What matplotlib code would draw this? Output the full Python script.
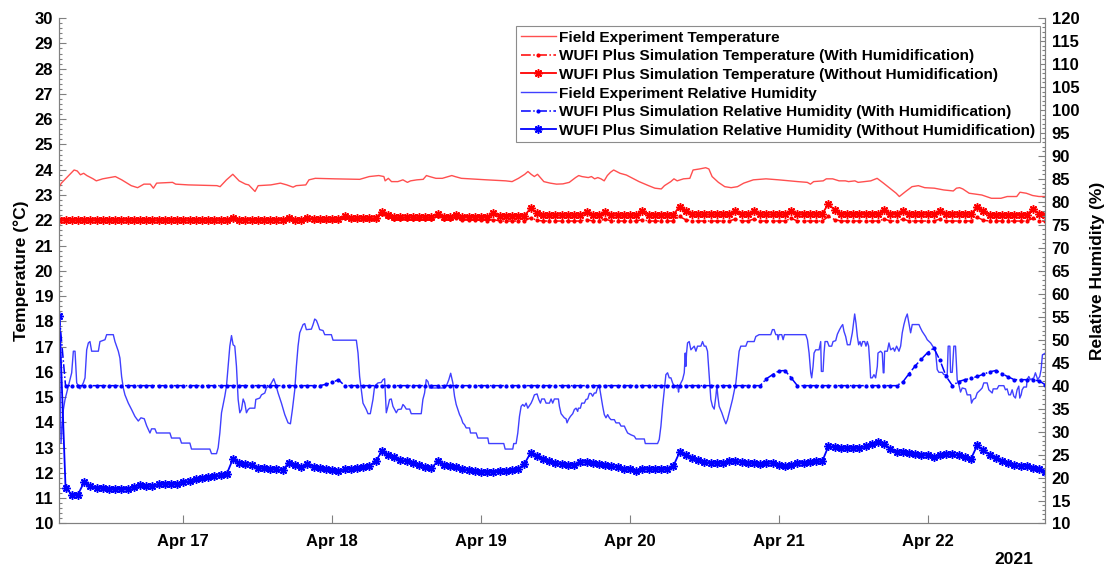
import datetime as dt

import matplotlib
matplotlib.use("Agg")
import matplotlib.pyplot as plt
import matplotlib.dates as mdates
from matplotlib.ticker import MultipleLocator

plt.rcParams["font.family"] = ["Liberation Sans", "DejaVu Sans"]
plt.rcParams["font.weight"] = "bold"

# ---------------------------------------------------------------- data
START = dt.datetime(2021, 4, 16, 4, 0)   # first hourly record
HOURS = list(range(160))                 # hourly simulation output

# WUFI Plus simulated indoor temperature (deg C), hourly
T_WITH_HUMID = [
    22.00, 22.00, 22.00, 22.00, 22.00, 22.00, 22.00, 22.00, 22.00, 22.00,
    22.00, 22.00, 22.00, 22.00, 22.00, 22.00, 22.00, 22.00, 22.00, 22.00,
    22.00, 22.00, 22.00, 22.00, 22.00, 22.00, 22.00, 22.00, 22.06, 22.00,
    22.00, 22.00, 22.00, 22.00, 22.00, 22.00, 22.00, 22.06, 22.00, 22.00,
    22.06, 22.01, 22.01, 22.01, 22.01, 22.01, 22.10, 22.04, 22.04, 22.04,
    22.04, 22.04, 22.25, 22.12, 22.06, 22.06, 22.06, 22.06, 22.05, 22.05,
    22.05, 22.15, 22.05, 22.04, 22.10, 22.03, 22.02, 22.01, 22.00, 21.98,
    22.03, 21.97, 21.97, 21.97, 21.97, 21.97, 22.10, 22.00, 21.97, 21.97,
    21.97, 21.97, 21.97, 21.97, 21.97, 22.03, 21.97, 21.97, 22.05, 21.97,
    21.97, 21.97, 21.97, 21.97, 22.03, 21.97, 21.97, 21.97, 21.97, 21.97,
    22.15, 22.02, 21.97, 21.97, 21.97, 21.97, 21.97, 21.97, 21.97, 22.05,
    21.97, 21.97, 22.05, 21.97, 21.97, 21.97, 21.97, 21.97, 22.08, 21.97,
    21.97, 21.97, 21.97, 21.97, 22.15, 22.03, 21.97, 21.97, 21.97, 21.97,
    21.97, 21.97, 21.97, 22.05, 21.97, 21.97, 22.05, 21.97, 21.97, 21.97,
    21.97, 21.97, 22.05, 21.97, 21.97, 21.97, 21.97, 21.97, 22.12, 22.00,
    21.97, 21.97, 21.97, 21.97, 21.97, 21.97, 21.97, 22.08, 21.97, 21.97,
]
T_WITHOUT_HUMID = [
    22.00, 22.00, 22.00, 22.00, 22.00, 22.00, 22.00, 22.00, 22.00, 22.00,
    22.00, 22.00, 22.00, 22.00, 22.00, 22.00, 22.00, 22.00, 22.00, 22.00,
    22.00, 22.00, 22.00, 22.00, 22.00, 22.00, 22.00, 22.00, 22.10, 22.02,
    22.02, 22.02, 22.02, 22.02, 22.02, 22.02, 22.02, 22.10, 22.03, 22.03,
    22.10, 22.04, 22.04, 22.04, 22.04, 22.04, 22.17, 22.08, 22.08, 22.08,
    22.08, 22.08, 22.34, 22.20, 22.12, 22.12, 22.12, 22.12, 22.12, 22.12,
    22.12, 22.25, 22.14, 22.13, 22.22, 22.14, 22.14, 22.14, 22.14, 22.14,
    22.28, 22.18, 22.18, 22.18, 22.18, 22.18, 22.48, 22.30, 22.20, 22.20,
    22.20, 22.20, 22.20, 22.20, 22.20, 22.33, 22.21, 22.21, 22.33, 22.20,
    22.20, 22.20, 22.20, 22.20, 22.35, 22.22, 22.22, 22.22, 22.22, 22.22,
    22.54, 22.35, 22.23, 22.23, 22.23, 22.23, 22.23, 22.23, 22.23, 22.36,
    22.24, 22.24, 22.36, 22.23, 22.23, 22.23, 22.23, 22.23, 22.38, 22.24,
    22.24, 22.24, 22.24, 22.24, 22.66, 22.40, 22.25, 22.25, 22.25, 22.25,
    22.25, 22.25, 22.25, 22.40, 22.26, 22.26, 22.38, 22.24, 22.24, 22.24,
    22.24, 22.24, 22.38, 22.24, 22.24, 22.24, 22.24, 22.24, 22.54, 22.35,
    22.22, 22.22, 22.22, 22.22, 22.22, 22.22, 22.22, 22.45, 22.25, 22.22,
]

# WUFI Plus simulated indoor relative humidity (%), hourly
RH_WITH_HUMID = [
    55.2, 40.0, 40.0, 40.0, 40.0, 40.0, 40.0, 40.0, 40.0, 40.0,
    40.0, 40.0, 40.0, 40.0, 40.0, 40.0, 40.0, 40.0, 40.0, 40.0,
    40.0, 40.0, 40.0, 40.0, 40.0, 40.0, 40.0, 40.0, 40.0, 40.0,
    40.0, 40.0, 40.0, 40.0, 40.0, 40.0, 40.0, 40.0, 40.0, 40.0,
    40.0, 40.0, 40.0, 40.3, 40.7, 41.3, 40.0, 40.0, 40.0, 40.0,
    40.0, 40.0, 40.0, 40.0, 40.0, 40.0, 40.0, 40.0, 40.0, 40.0,
    40.0, 40.0, 40.0, 40.0, 40.0, 40.0, 40.0, 40.0, 40.0, 40.0,
    40.0, 40.0, 40.0, 40.0, 40.0, 40.0, 40.0, 40.0, 40.0, 40.0,
    40.0, 40.0, 40.0, 40.0, 40.0, 40.0, 40.0, 40.0, 40.0, 40.0,
    40.0, 40.0, 40.0, 40.0, 40.0, 40.0, 40.0, 40.0, 40.0, 40.0,
    40.0, 40.0, 40.0, 40.0, 40.0, 40.0, 40.0, 40.0, 40.0, 40.0,
    40.0, 40.0, 40.0, 40.0, 41.5, 42.4, 43.2, 43.3, 41.7, 40.0,
    40.0, 40.0, 40.0, 40.0, 40.0, 40.0, 40.0, 40.0, 40.0, 40.0,
    40.0, 40.0, 40.0, 40.0, 40.0, 40.0, 40.8, 42.6, 44.3, 45.8,
    47.2, 48.2, 45.5, 42.0, 40.0, 40.9, 41.3, 41.6, 42.0, 42.5,
    43.0, 43.3, 42.6, 41.9, 41.3, 41.3, 41.3, 41.3, 41.0, 40.2,
]
RH_WITHOUT_HUMID = [
    55.2, 17.8, 16.3, 16.3, 19.0, 18.1, 17.8, 17.7, 17.6, 17.6,
    17.5, 17.6, 18.0, 18.4, 18.1, 18.1, 18.6, 18.6, 18.6, 18.7,
    19.0, 19.2, 19.7, 19.8, 20.1, 20.4, 20.5, 20.8, 24.1, 23.2,
    23.0, 22.7, 22.1, 22.0, 21.9, 21.8, 21.6, 23.2, 22.7, 22.3,
    22.9, 22.4, 22.1, 21.9, 21.7, 21.4, 21.8, 21.9, 22.1, 22.2,
    22.6, 23.5, 25.7, 25.0, 24.5, 23.9, 23.5, 23.2, 22.8, 22.4,
    22.1, 23.5, 22.8, 22.5, 22.3, 21.9, 21.6, 21.4, 21.3, 21.2,
    21.3, 21.5, 21.5, 21.6, 21.8, 23.0, 25.4, 24.7, 24.1, 23.5,
    23.2, 23.0, 22.7, 22.8, 23.3, 23.4, 23.2, 22.9, 22.8, 22.6,
    22.2, 21.9, 21.8, 21.4, 21.9, 21.8, 21.8, 21.8, 21.9, 22.5,
    25.5, 24.8, 24.3, 23.9, 23.4, 23.2, 23.1, 23.2, 23.5, 23.7,
    23.3, 23.2, 23.1, 23.0, 23.1, 23.1, 22.8, 22.5, 22.8, 23.1,
    23.2, 23.3, 23.5, 23.5, 26.8, 26.6, 26.4, 26.4, 26.4, 26.5,
    26.8, 27.2, 27.8, 27.4, 26.2, 25.5, 25.5, 25.4, 25.2, 25.0,
    24.8, 24.5, 24.9, 25.1, 25.1, 24.8, 24.5, 24.1, 27.0, 25.9,
    25.0, 24.3, 23.5, 23.2, 22.7, 22.5, 22.6, 22.1, 21.8, 21.2,
]

# Field measurements: (hours after first record, value)
FIELD_TEMP = [
    (0.00, 23.33), (0.33, 23.47), (1.36, 23.73), (2.38, 23.99), (2.89, 23.95),
    (3.40, 23.80), (3.92, 23.86), (4.43, 23.77), (5.45, 23.64), (5.96, 23.56),
    (6.99, 23.64), (9.03, 23.73), (10.06, 23.60), (11.59, 23.37), (12.62, 23.29),
    (13.64, 23.43), (14.66, 23.43), (15.17, 23.27), (15.69, 23.47), (18.25, 23.50),
    (18.76, 23.43), (20.80, 23.40), (25.41, 23.37), (25.92, 23.33), (26.95, 23.60),
    (27.97, 23.82), (28.99, 23.56), (30.02, 23.43), (30.53, 23.40), (31.55, 23.14),
    (32.06, 23.37), (34.11, 23.40), (35.65, 23.47), (36.67, 23.40), (37.69, 23.31),
    (38.20, 23.37), (39.74, 23.40), (40.25, 23.60), (41.27, 23.66), (44.34, 23.64),
    (48.44, 23.62), (49.97, 23.73), (51.51, 23.77), (52.33, 23.73), (52.53, 23.56),
    (53.05, 23.66), (53.56, 23.53), (54.58, 23.53), (55.40, 23.60), (56.12, 23.50),
    (56.63, 23.56), (57.65, 23.60), (58.67, 23.62), (59.19, 23.77), (59.70, 23.73),
    (60.72, 23.66), (61.75, 23.66), (63.28, 23.77), (63.79, 23.73), (64.82, 23.66),
    (68.91, 23.60), (71.98, 23.56), (73.00, 23.53), (74.03, 23.66), (75.05, 23.82),
    (75.56, 23.93), (76.07, 23.82), (76.59, 23.73), (77.10, 23.82), (78.12, 23.53),
    (79.14, 23.47), (80.17, 23.43), (81.19, 23.44), (82.22, 23.50), (83.24, 23.69),
    (83.75, 23.77), (84.26, 23.73), (85.29, 23.69), (85.80, 23.73), (86.31, 23.64),
    (86.82, 23.69), (87.33, 23.64), (87.85, 23.56), (88.36, 23.77), (88.87, 23.90),
    (89.38, 23.99), (90.40, 23.86), (91.43, 23.79), (92.45, 23.66), (93.47, 23.53),
    (95.01, 23.37), (96.03, 23.27), (97.06, 23.24), (97.57, 23.37), (98.59, 23.53),
    (99.10, 23.64), (99.62, 23.56), (100.64, 23.64), (101.66, 23.66), (102.18, 23.99),
    (103.20, 24.03), (104.22, 24.08), (104.73, 24.03), (105.25, 23.73), (106.27, 23.50),
    (107.29, 23.33), (108.32, 23.29), (109.34, 23.33), (110.36, 23.47), (111.90, 23.60),
    (113.94, 23.64), (115.99, 23.60), (119.06, 23.53), (120.60, 23.50), (121.11, 23.43),
    (121.62, 23.53), (123.16, 23.56), (123.67, 23.64), (124.69, 23.64), (125.20, 23.60),
    (125.72, 23.56), (126.74, 23.56), (127.25, 23.53), (128.28, 23.56), (128.79, 23.50),
    (129.81, 23.53), (130.84, 23.56), (131.86, 23.66), (132.88, 23.47), (133.91, 23.27),
    (134.93, 23.07), (135.44, 22.94), (136.46, 23.14), (137.49, 23.33), (138.51, 23.37),
    (139.53, 23.29), (141.07, 23.27), (142.60, 23.20), (144.14, 23.16), (144.65, 23.27),
    (145.16, 23.29), (145.67, 23.24), (146.70, 23.07), (148.74, 23.00), (150.28, 22.87),
    (151.82, 22.87), (152.84, 22.94), (154.37, 22.94), (154.89, 23.11), (155.91, 23.07),
    (156.93, 22.98), (157.96, 22.94), (159.00, 22.94),
]
FIELD_RH = [
    (0.00, 50.0), (0.27, 27.5), (0.65, 34.8), (0.92, 37.0), (1.45, 39.9),
    (1.99, 42.8), (2.26, 47.5), (2.53, 47.5), (2.80, 40.6), (3.33, 39.3),
    (3.87, 40.6), (4.14, 41.7), (4.41, 47.8), (4.68, 49.3), (4.94, 49.6),
    (5.21, 47.5), (6.29, 47.5), (6.55, 49.6), (7.36, 50.0), (7.63, 51.1),
    (8.70, 51.1), (8.97, 49.6), (9.51, 47.5), (9.77, 46.0), (10.04, 42.0),
    (10.31, 39.5), (10.58, 38.0), (11.12, 36.2), (11.65, 34.8), (12.19, 33.3),
    (12.73, 32.3), (13.16, 33.0), (13.69, 32.8), (14.07, 31.3), (14.61, 29.7),
    (14.87, 30.6), (15.41, 30.6), (15.68, 29.7), (17.83, 29.7), (18.09, 28.6),
    (19.43, 28.6), (19.70, 27.5), (21.05, 27.5), (21.31, 26.2), (24.27, 26.2),
    (24.54, 25.2), (25.34, 25.2), (25.61, 26.5), (25.88, 29.7), (26.15, 34.1),
    (26.68, 37.7), (26.95, 39.9), (27.22, 44.2), (27.49, 48.6), (27.76, 50.9),
    (28.02, 48.9), (28.29, 48.6), (28.56, 44.2), (28.83, 37.0), (29.10, 34.1),
    (29.37, 34.8), (29.64, 37.1), (29.90, 36.2), (30.17, 34.1), (30.44, 34.8),
    (30.71, 35.1), (31.52, 35.1), (31.68, 37.0), (32.32, 37.3), (32.59, 38.0),
    (33.13, 38.4), (33.39, 39.5), (33.93, 40.0), (34.20, 40.6), (34.57, 41.5),
    (34.90, 40.2), (35.27, 38.4), (35.81, 36.2), (36.35, 33.7), (36.88, 31.9),
    (37.26, 31.7), (37.58, 34.8), (37.96, 39.1), (38.22, 44.2), (38.49, 48.6),
    (38.76, 51.5), (39.30, 53.3), (39.57, 53.5), (39.83, 52.2), (40.64, 52.3),
    (40.91, 53.3), (41.18, 54.5), (41.45, 54.2), (41.71, 53.3), (41.98, 52.2),
    (42.52, 52.0), (42.79, 51.1), (43.86, 51.1), (44.13, 49.9), (47.89, 49.9),
    (48.16, 47.1), (48.42, 42.0), (48.69, 39.1), (48.96, 36.2), (49.50, 34.8),
    (49.77, 33.9), (50.14, 33.9), (50.57, 37.0), (50.84, 39.9), (51.38, 40.6),
    (51.91, 40.7), (52.18, 41.3), (52.45, 41.5), (52.61, 37.0), (52.72, 34.1),
    (52.99, 35.5), (53.25, 37.0), (53.52, 37.1), (53.79, 35.5), (54.33, 34.1),
    (54.60, 34.8), (55.13, 34.9), (55.40, 35.9), (55.67, 35.5), (55.94, 34.9),
    (56.48, 34.9), (56.74, 33.9), (58.35, 33.9), (58.62, 37.0), (58.89, 38.4),
    (59.16, 41.3), (59.43, 40.9), (59.70, 39.5), (62.11, 39.5), (62.45, 40.1),
    (62.80, 41.3), (63.10, 42.7), (63.45, 40.6), (63.72, 37.7), (63.99, 35.9),
    (64.26, 34.8), (64.53, 33.7), (64.79, 33.0), (65.06, 31.9), (65.33, 31.5),
    (65.60, 30.8), (66.14, 30.8), (66.30, 29.7), (67.21, 29.7), (67.48, 28.6),
    (69.09, 28.6), (69.25, 27.4), (71.66, 27.4), (71.88, 26.2), (73.11, 26.2),
    (73.27, 27.4), (73.65, 27.4), (73.92, 29.7), (74.19, 33.3), (74.46, 35.5),
    (74.72, 35.9), (74.99, 35.5), (75.26, 36.2), (75.53, 35.1), (76.07, 36.2),
    (76.33, 37.0), (76.60, 38.0), (77.03, 38.2), (77.30, 37.0), (77.57, 36.2),
    (77.78, 37.1), (78.21, 37.1), (78.48, 36.2), (79.02, 36.2), (79.29, 37.1),
    (79.55, 36.2), (79.82, 37.1), (80.47, 37.1), (80.63, 35.5), (80.90, 33.9),
    (81.43, 33.0), (81.70, 32.8), (81.86, 31.9), (82.08, 32.6), (82.40, 33.3),
    (82.78, 33.9), (83.04, 34.8), (83.31, 35.1), (83.58, 34.4), (83.69, 35.1),
    (84.01, 35.1), (84.23, 36.2), (84.65, 36.2), (84.92, 37.0), (85.19, 37.1),
    (85.46, 38.3), (85.73, 38.3), (85.99, 37.7), (86.26, 38.4), (86.53, 38.4),
    (86.80, 39.7), (87.07, 39.9), (87.34, 37.7), (87.61, 35.5), (87.87, 33.7),
    (88.14, 33.0), (88.41, 33.7), (88.68, 33.0), (88.95, 32.6), (89.49, 32.6),
    (89.75, 31.9), (90.29, 31.9), (90.56, 31.2), (91.10, 31.2), (91.37, 30.4),
    (91.63, 29.7), (92.17, 29.3), (92.71, 29.0), (92.98, 28.4), (94.32, 28.4),
    (94.48, 27.4), (96.46, 27.4), (96.73, 28.3), (97.00, 31.2), (97.27, 35.5),
    (97.54, 39.1), (97.80, 42.4), (98.07, 42.8), (98.34, 41.7), (98.61, 41.7),
    (98.88, 40.6), (99.15, 39.9), (99.41, 39.7), (99.52, 39.5), (99.68, 40.2),
    (99.84, 38.6), (99.95, 39.7), (100.22, 40.6), (100.49, 41.3), (100.76, 42.8),
    (100.92, 47.1), (101.02, 44.2), (101.13, 47.1), (101.29, 49.3), (101.56, 49.6),
    (101.83, 47.8), (102.10, 48.2), (102.37, 48.6), (102.64, 47.5), (102.90, 48.6),
    (103.44, 48.6), (103.71, 49.6), (103.98, 48.6), (104.25, 48.6), (104.51, 47.5),
    (104.68, 44.2), (104.89, 39.9), (105.05, 37.0), (105.32, 35.5), (105.59, 34.9),
    (105.86, 37.7), (106.02, 40.0), (106.18, 37.7), (106.39, 35.5), (106.82, 34.1),
    (107.20, 32.6), (107.47, 31.7), (107.73, 32.6), (108.00, 34.1), (108.54, 37.0),
    (109.08, 40.6), (109.35, 44.2), (109.61, 47.5), (109.88, 48.6), (110.69, 48.6),
    (110.96, 49.6), (112.03, 49.6), (112.30, 50.7), (112.83, 51.1), (114.71, 51.1),
    (114.98, 52.2), (115.25, 52.2), (115.52, 51.1), (115.79, 51.1), (115.89, 50.0),
    (116.05, 51.1), (116.48, 51.1), (116.70, 50.0), (116.91, 51.1), (120.35, 51.1),
    (120.62, 50.0), (120.89, 47.1), (121.15, 42.8), (121.31, 41.7), (121.53, 44.2),
    (121.69, 47.1), (121.96, 47.8), (122.50, 47.8), (122.76, 49.6), (122.87, 43.1),
    (123.14, 43.1), (123.30, 47.1), (123.46, 49.6), (123.84, 49.6), (124.11, 48.6),
    (124.53, 48.6), (124.75, 49.6), (125.18, 49.8), (125.45, 51.2), (125.80, 52.2),
    (126.09, 52.9), (126.31, 53.3), (126.52, 51.8), (126.79, 50.7), (127.06, 48.9),
    (127.49, 48.9), (127.86, 51.5), (128.13, 54.4), (128.24, 55.6), (128.45, 53.6),
    (128.67, 50.7), (128.88, 48.9), (129.10, 49.6), (129.31, 48.6), (129.53, 49.6),
    (129.85, 49.6), (130.06, 48.6), (130.28, 49.6), (130.49, 48.6), (130.71, 44.2),
    (130.81, 41.7), (131.08, 41.7), (131.35, 42.4), (131.62, 41.7), (131.89, 44.2),
    (132.00, 47.1), (132.42, 47.5), (132.69, 47.1), (132.85, 42.8), (132.96, 42.8),
    (133.07, 47.5), (133.50, 47.5), (133.77, 49.3), (134.04, 47.8), (134.46, 48.2),
    (134.68, 47.5), (135.00, 48.6), (135.38, 47.5), (135.65, 48.6), (135.91, 51.5),
    (136.18, 53.3), (136.45, 54.7), (136.72, 55.6), (136.99, 53.6), (137.26, 51.5),
    (137.52, 53.3), (138.60, 53.3), (138.87, 52.5), (139.13, 51.8), (139.67, 50.7),
    (139.94, 50.0), (140.48, 49.3), (141.01, 48.2), (141.28, 47.5), (141.55, 43.5),
    (141.82, 42.9), (142.35, 42.9), (142.62, 42.4), (143.16, 42.4), (143.32, 48.6),
    (143.59, 48.6), (143.70, 42.9), (143.97, 42.9), (144.23, 48.6), (144.50, 48.6),
    (144.77, 41.3), (145.04, 40.2), (145.31, 38.6), (145.58, 39.5), (146.11, 39.3),
    (146.38, 38.0), (146.92, 38.0), (147.08, 36.2), (147.35, 37.0), (147.72, 37.3),
    (147.99, 38.4), (148.53, 39.1), (148.80, 39.5), (149.06, 40.6), (149.60, 40.6),
    (149.87, 39.1), (150.41, 38.4), (150.57, 39.3), (151.21, 39.3), (151.48, 40.0),
    (152.29, 40.0), (152.55, 39.1), (152.82, 39.3), (153.09, 38.0), (153.36, 38.0),
    (153.63, 39.1), (153.90, 37.7), (154.16, 37.3), (154.43, 39.1), (154.70, 39.9),
    (154.86, 37.3), (155.08, 38.0), (155.24, 39.1), (155.51, 39.7), (155.94, 39.7),
    (156.04, 41.3), (156.31, 42.0), (156.58, 41.3), (157.12, 41.7), (157.38, 42.8),
    (157.76, 41.3), (158.08, 42.0), (158.30, 43.5), (158.51, 46.7), (159.00, 47.1),
]

LABELS = [
    "Field Experiment Temperature",
    "WUFI Plus Simulation Temperature (With Humidification)",
    "WUFI Plus Simulation Temperature (Without Humidification)",
    "Field Experiment Relative Humidity",
    "WUFI Plus Simulation Relative Humidity (With Humidification)",
    "WUFI Plus Simulation Relative Humidity (Without Humidification)",
]


def to_time(hours):
    return [START + dt.timedelta(hours=h) for h in hours]


sim_t = to_time(HOURS)
ft_t = to_time([p[0] for p in FIELD_TEMP])
ft_v = [p[1] for p in FIELD_TEMP]
fr_t = to_time([p[0] for p in FIELD_RH])
fr_v = [p[1] for p in FIELD_RH]

# ---------------------------------------------------------------- figure
RED = "#ff0000"
BLUE = "#0000ff"
AXIS_GREY = "#808080"
STAR = (8, 2, 0)

fig = plt.figure(figsize=(11.07, 5.70), dpi=100)
ax = fig.add_axes([0.0536, 0.0816, 0.8908, 0.8866])
ax2 = ax.twinx()

l1, = ax.plot(ft_t, ft_v, color="#ff3c3c", lw=1.0, alpha=0.9, label=LABELS[0])
l2, = ax.plot(sim_t, T_WITH_HUMID, color=RED, lw=1.1, ls="-.", marker=".",
              markersize=4, label=LABELS[1])
l3, = ax.plot(sim_t, T_WITHOUT_HUMID, color=RED, lw=1.3, marker=STAR,
              markersize=6, markeredgewidth=1.1, label=LABELS[2])

l4, = ax2.plot(fr_t, fr_v, color="#2b2bff", lw=1.0, alpha=0.9, label=LABELS[3])
l5, = ax2.plot(sim_t, RH_WITH_HUMID, color=BLUE, lw=1.1, ls="-.", marker=".",
               markersize=4, label=LABELS[4])
l6, = ax2.plot(sim_t, RH_WITHOUT_HUMID, color=BLUE, lw=1.3, marker=STAR,
               markersize=6, markeredgewidth=1.1, label=LABELS[5])

# axes limits and ticks
ax.set_xlim(sim_t[0], sim_t[-1])
ax.set_ylim(10, 30)
ax2.set_ylim(10, 120)

ax.xaxis.set_major_locator(mdates.DayLocator())
ax.xaxis.set_major_formatter(mdates.DateFormatter("%b %d"))
ax.yaxis.set_major_locator(MultipleLocator(1))
ax.yaxis.set_minor_locator(MultipleLocator(0.2))
ax2.yaxis.set_major_locator(MultipleLocator(5))
ax2.yaxis.set_minor_locator(MultipleLocator(1))

for a in (ax, ax2):
    a.tick_params(which="both", direction="in", color=AXIS_GREY, width=0.8,
                  labelsize=12, labelcolor="black")
    a.tick_params(which="major", length=5)
    a.tick_params(which="minor", length=2.5)
    for s in a.spines.values():
        s.set_color(AXIS_GREY)
        s.set_linewidth(0.8)
    a.spines["top"].set_visible(False)
ax.tick_params(axis="y", pad=4.5)
ax2.tick_params(axis="y", pad=4.5)
ax.tick_params(axis="x", which="major", length=6, pad=7.5)
ax.tick_params(axis="x", which="minor", length=0)

ax.set_ylabel("Temperature (\u00b0C)", fontsize=12.5, fontweight="bold")
ax2.set_ylabel("Relative Humidity (%)", fontsize=12.5, fontweight="bold",
               labelpad=8)

ax.text(0.968, -0.071, "2021", transform=ax.transAxes, ha="center",
        va="center", fontsize=12.5, fontweight="bold")

leg = ax2.legend(handles=[l1, l2, l3, l4, l5, l6], loc="upper right",
                 bbox_to_anchor=(0.9944, 0.9844), borderaxespad=0,
                 prop={"weight": "bold", "size": 11.1}, fancybox=False,
                 framealpha=1, edgecolor="#8c8c8c", handlelength=2.3,
                 handletextpad=0.2, labelspacing=0.3, borderpad=0.3,
                 numpoints=1)
leg.get_frame().set_linewidth(0.8)

fig.savefig("out.png", dpi=100)
